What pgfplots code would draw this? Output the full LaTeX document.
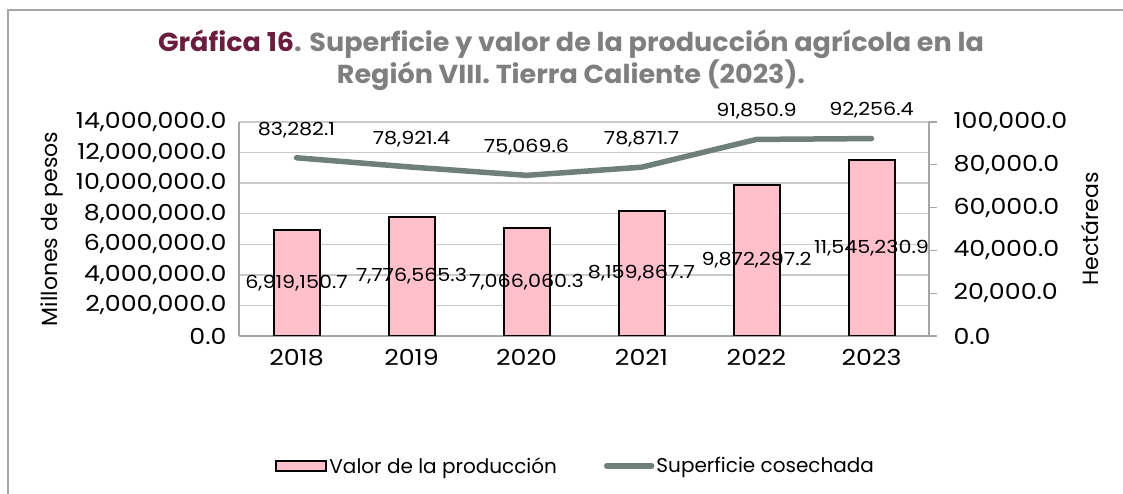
\documentclass[border=0pt]{standalone}
\usepackage{fontspec}
\setmainfont{Poppins}
\newfontfamily\numfont[FakeStretch=1.15]{Poppins}
\newfontfamily\titlefont[FakeStretch=1.04]{Poppins}
\usepackage{pgfplots}
\usepackage{pgfplotstable}
\pgfplotsset{compat=1.18}
\definecolor{cBar}{HTML}{FFC0CB}
\definecolor{cLine}{HTML}{6E7F7C}
\definecolor{cGrid}{HTML}{C9C9C9}
\definecolor{cAxis}{HTML}{A6A6A6}
\definecolor{cTitle}{HTML}{6B1D3D}
\definecolor{cTitleGray}{HTML}{7F7F7F}

% valor: pesos, sup: hectareas
\pgfplotstableread{
idx year valor valorlbl sup suplbl
0 2018 6919150.7 6,919,150.7 83282.1 83,282.1
1 2019 7776565.3 7,776,565.3 78921.4 78,921.4
2 2020 7066060.3 7,066,060.3 75069.6 75,069.6
3 2021 8159867.7 8,159,867.7 78871.7 78,871.7
4 2022 9872297.2 9,872,297.2 91850.9 91,850.9
5 2023 11545230.9 11,545,230.9 92256.4 92,256.4
}\datatable

\pgfplotsset{
  base/.style={
    at={(239pt,158pt)}, anchor=south west,
    scale only axis, width=690pt, height=214pt,
    xmin=-0.5, xmax=5.5,
    /pgf/number format/assume math mode=true,
    tick label style={font=\numfont\fontsize{22}{26}\selectfont},
    scaled y ticks=false,
    yticklabel style={/pgf/number format/fixed, /pgf/number format/fixed zerofill,
      /pgf/number format/precision=1, /pgf/number format/1000 sep={,}},
  },
  barlegend/.style={legend image code/.code={\draw[##1] (0pt,-5pt) rectangle (50pt,5pt);}},
  linelegend/.style={legend image code/.code={\draw[##1] (3pt,0pt) -- (48pt,0pt);}},
}

\begin{document}
\begin{tikzpicture}
\path[use as bounding box] (0pt,0pt) rectangle (1123pt,494pt);
\draw[cAxis, line width=2pt] (8pt,0pt) -- (8pt,484pt) -- (1123pt,484pt);

\node[align=center, text=cTitleGray, font=\titlefont\bfseries\fontsize{26}{30}\selectfont]
  at (571pt,434pt) {\textcolor{cTitle}{Gráfica 16}. Superficie y valor de la producción agrícola en la\\Región VIII. Tierra Caliente (2023).};

\begin{axis}[base,
  ymin=0, ymax=14000000,
  ytick={0,2000000,4000000,6000000,8000000,10000000,12000000,14000000},
  xtick={0,1,2,3,4,5}, xticklabels={2018,2019,2020,2021,2022,2023},
  axis y line*=left, axis x line*=bottom,
  axis line style={cAxis, line width=1.3pt},
  major tick length=0pt,
  ymajorgrids, grid style={cGrid, line width=1.3pt},
  yticklabel style={xshift=-9pt},
  xticklabel style={yshift=-10pt},
  ylabel={Millones de pesos},
  every axis y label/.style={at={(axis description cs:0,0.5)}, xshift=-187pt,
    rotate=90, anchor=center, font=\fontsize{22}{26}\selectfont},
  legend style={at={(0.488,-0.607)}, anchor=center, draw=none, fill=none,
    legend columns=2, font=\fontsize{20}{24}\selectfont,
    /tikz/every even column/.append style={column sep=45pt}},
]
\addplot[ybar, bar width=46pt, fill=cBar, draw=black, line width=2pt, barlegend]
  table[x=idx, y=valor] {\datatable};
\addlegendentry{Valor de la producción}
\addplot[draw=none, mark=none, forget plot, nodes near coords,
  point meta=explicit symbolic, y filter/.expression={y/2},
  every node near coord/.append style={anchor=center, text=black,
    font=\numfont\fontsize{18}{22}\selectfont}]
  table[x=idx, y=valor, meta=valorlbl] {\datatable};
\addlegendimage{cLine, line width=5.5pt, line cap=round, linelegend}
\addlegendentry{Superficie cosechada}
\end{axis}

\begin{axis}[base,
  ymin=0, ymax=100000,
  ytick={0,20000,40000,60000,80000,100000},
  axis x line=none, axis y line*=right,
  axis line style={cAxis, line width=1.3pt},
  ytick style={cAxis, line width=1.3pt}, major tick length=8pt, tick align=outside,
  yticklabel style={xshift=13pt},
  ylabel={Hectáreas},
  every axis y label/.style={at={(axis description cs:1,0.5)}, xshift=161pt,
    rotate=90, anchor=center, font=\fontsize{22}{26}\selectfont},
]
\addplot[cLine, line width=5.5pt, line cap=round, line join=round, mark=none,
  nodes near coords, point meta=explicit symbolic,
  every node near coord/.append style={anchor=center, yshift=28pt, text=black,
    font=\numfont\fontsize{18}{22}\selectfont}]
  table[x=idx, y=sup, meta=suplbl] {\datatable};
\end{axis}
\end{tikzpicture}
\end{document}
